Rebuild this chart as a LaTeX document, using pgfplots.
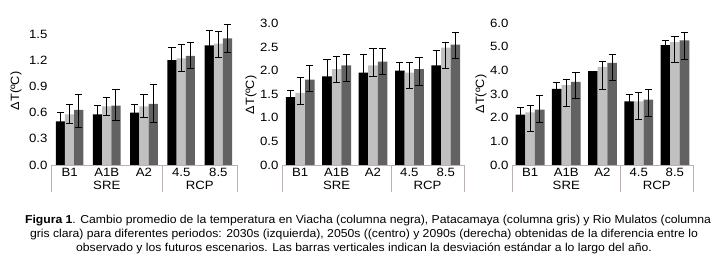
\documentclass[border=0pt]{standalone}
\usepackage{pgfplots}
\pgfplotsset{compat=1.18}
\usepackage{pgfplotstable}
\usepackage{fontspec}
\setmainfont{Liberation Sans}
\newfontfamily\tickfont[FakeStretch=1.1]{Liberation Sans}
\newfontfamily\capfont[FakeStretch=1.06]{Liberation Sans}

\definecolor{lightbar}{RGB}{192,192,192}
\definecolor{darkbar}{RGB}{98,98,98}
\definecolor{axgray}{RGB}{185,175,185}

\pgfplotstableread{
x a ap am b bp bm c cp cm
0 0.50 0.10 0.10 0.58 0.11 0.105 0.63 0.175 0.20
1 0.58 0.10 0.10 0.67 0.10 0.10 0.68 0.19 0.175
2 0.60 0.09 0.09 0.67 0.135 0.13 0.70 0.22 0.21
3 1.20 0.15 0.15 1.22 0.155 0.15 1.25 0.15 0.14
4 1.37 0.17 0.17 1.39 0.14 0.163 1.45 0.153 0.163
}\dataA

\pgfplotstableread{
x a ap am b bp bm c cp cm
0 1.44 0.14 0.14 1.53 0.32 0.25 1.81 0.31 0.25
1 1.88 0.35 0.35 2.03 0.28 0.29 2.11 0.24 0.33
2 1.96 0.39 0.39 2.11 0.35 0.23 2.19 0.29 0.28
3 2.00 0.18 0.18 1.96 0.22 0.34 2.03 0.24 0.34
4 2.11 0.31 0.31 2.49 0.11 0.45 2.55 0.26 0.30
}\dataB

\pgfplotstableread{
x a ap am b bp bm c cp cm
0 2.13 0.32 0.32 2.22 0.28 0.82 2.34 0.60 0.54
1 3.22 0.26 0.26 3.38 0.24 0.90 3.51 0.41 0.71
2 3.97 0.00 0.00 4.15 0.21 0.95 4.32 0.35 0.77
3 2.69 0.28 0.28 2.69 0.39 0.75 2.76 0.41 0.73
4 5.06 0.21 0.21 5.19 0.25 0.88 5.27 0.32 0.81
}\dataC

\pgfplotsset{
  panel/.style={
    scale only axis, anchor=south west, clip=false,
    ybar=0pt, bar width=9.6pt,
    xmin=-0.5, xmax=4.5, ymin=0,
    xtick={0,1,2,3,4}, xticklabels={B1,A1B,A2,4.5,8.5},
    axis x line*=bottom, axis y line*=left,
    x axis line style={draw=axgray, line width=0.8pt},
    y axis line style={draw=none},
    major tick length=0pt,
    xtick style={draw=none}, ytick style={draw=none},
    /pgf/number format/assume math mode=true,
    tick label style={font=\tickfont\fontsize{12}{14}\selectfont},
    yticklabel style={/pgf/number format/.cd, fixed, fixed zerofill, precision=1},
    ylabel={ΔT(ºC)},
    ylabel style={font=\capfont\fontsize{12}{14}\selectfont, anchor=center},
    error bars/error bar style={line width=1pt, black},
    error bars/error mark options={rotate=90, mark size=3.6pt, line width=1pt, black},
  },
  barA/.style={fill=black, draw=none},
  barB/.style={fill=lightbar, draw=none},
  barC/.style={fill=darkbar, draw=none},
}

\newcommand{\bars}[1]{%
  \addplot[barA, error bars/.cd, y dir=both, y explicit] table[x=x, y=a, y error plus=ap, y error minus=am] {#1};
  \addplot[barB, error bars/.cd, y dir=both, y explicit] table[x=x, y=b, y error plus=bp, y error minus=bm] {#1};
  \addplot[barC, error bars/.cd, y dir=both, y explicit] table[x=x, y=c, y error plus=cp, y error minus=cm] {#1};
  \draw[axgray, line width=0.8pt] (axis cs:-0.5,0) -- ++(0pt,-27pt);
  \draw[axgray, line width=0.8pt] (axis cs:2.5,0) -- ++(0pt,-27pt);
  \draw[axgray, line width=0.8pt] (axis cs:4.5,0) -- ++(0pt,-27pt);
  \node[font=\tickfont\fontsize{12}{14}\selectfont] at ([yshift=-20.5pt]axis cs:1,0) {SRE};
  \node[font=\tickfont\fontsize{12}{14}\selectfont] at ([yshift=-20.5pt]axis cs:3.5,0) {RCP};
}

\begin{document}
\begin{tikzpicture}
\useasboundingbox (0pt,0pt) rectangle (716pt,264pt);

\begin{axis}[panel, at={(51pt,99pt)}, width=186pt, height=131pt,
  ymax=1.5, ytick={0,0.3,0.6,0.9,1.2,1.5}, bar width=9.2pt,
  ylabel style={at={(axis description cs:-0.188,0.565)}}]
\bars{\dataA}
\end{axis}

\begin{axis}[panel, at={(282pt,99pt)}, width=182pt, height=141.5pt,
  ymax=3.0, ytick={0,0.5,1.0,1.5,2.0,2.5,3.0},
  ylabel style={at={(axis description cs:-0.17,0.495)}}]
\bars{\dataB}
\end{axis}

\begin{axis}[panel, at={(512pt,99pt)}, width=181pt, height=142pt,
  ymax=6.0, ytick={0,1,2,3,4,5,6},
  ylabel style={at={(axis description cs:-0.171,0.5)}}]
\bars{\dataC}
\end{axis}

\begin{scope}[font=\capfont\fontsize{11.5}{13}\selectfont]
\node[anchor=base] at (368pt,40.7pt) {\textbf{Figura 1}. Cambio promedio de la temperatura en Viacha (columna negra), Patacamaya (columna gris) y Rio Mulatos (columna};
\node[anchor=base] at (364pt,26.3pt) {gris clara) para diferentes periodos: 2030s (izquierda), 2050s ((centro) y 2090s (derecha) obtenidas de la diferencia entre lo};
\node[anchor=base] at (364pt,12.3pt) {observado y los futuros escenarios. Las barras verticales indican la desviación estándar a lo largo del año.};
\end{scope}
\end{tikzpicture}
\end{document}
